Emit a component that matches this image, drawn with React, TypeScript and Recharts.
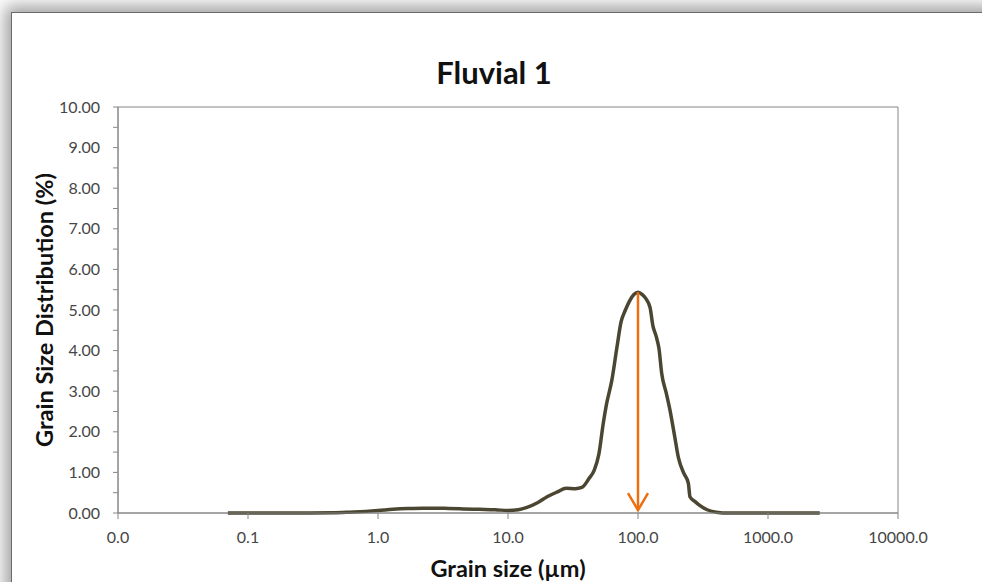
// Grain size distribution curve for the "Fluvial 1" sample, drawn on a log
// grain-size axis with an arrow marking the modal class near 100 µm.
import {
  LineChart,
  Line,
  XAxis,
  YAxis,
  ReferenceLine,
  ReferenceArea,
} from "recharts";

const TITLE = "Fluvial 1";
const X_LABEL = "Grain size (µm)";
const Y_LABEL = "Grain Size Distribution (%)";

// size class (µm) and volume share (%)
const SIZES = [
  0.07, 0.1, 0.15, 0.2, 0.3, 0.45, 0.6, 0.8, 1.0, 1.3, 1.7, 2.2, 2.8, 3.5,
  4.5, 6, 8, 10, 12, 14, 17, 20, 24, 28, 33, 37, 42, 46, 50, 54, 57, 63, 69,
  74, 80, 86, 93, 100, 108, 115, 124, 130, 138, 145, 152, 165, 176, 190, 205,
  225, 244, 251, 275, 300, 340, 400, 450, 600, 1000, 1500, 2000, 2500,
];
const PERCENT = [
  0, 0, 0, 0, 0, 0.005, 0.02, 0.04, 0.06, 0.09, 0.11, 0.12, 0.12, 0.11,
  0.1, 0.09, 0.08, 0.06, 0.08, 0.14, 0.26, 0.4, 0.52, 0.61, 0.6, 0.63, 0.85,
  1.05, 1.45, 2.2, 2.65, 3.28, 4.1, 4.7, 5.0, 5.22, 5.38, 5.44, 5.38, 5.28,
  5.05, 4.62, 4.35, 4.05, 3.45, 2.95, 2.54, 1.95, 1.35, 0.98, 0.73, 0.4, 0.28,
  0.18, 0.08, 0.02, 0, 0, 0, 0, 0, 0,
];

const X_TICKS = [0.01, 0.1, 1, 10, 100, 1000, 10000];
const Y_TICKS = [
  0, 0.5, 1, 1.5, 2, 2.5, 3, 3.5, 4, 4.5, 5, 5.5, 6, 6.5, 7, 7.5, 8, 8.5, 9,
  9.5, 10,
];

// modal size and where the arrow starts / ends
const MODE_SIZE = 100;
const ARROW_TOP = 5.44;
const ARROW_TIP = 0.07;

const data = SIZES.map((s, i) => ({ size: s, pct: PERCENT[i] }));

const FONT = "Lato, 'Open Sans', sans-serif";
const AXIS_GREY = "#868686";
const TICK_TEXT = "#464646";
const CURVE = "#4b4631";
const ORANGE = "#ec6f12";

function ArrowShape(props: any) {
  const { x1, y1, x2, y2 } = props;
  if (x1 == null || y1 == null) return null;
  return (
    <g>
      <line x1={x1} y1={y1} x2={x2} y2={y2} stroke={ORANGE} strokeWidth={2.5} />
      <path
        d={`M${x2 - 10},${y2 - 17} L${x2},${y2} L${x2 + 10},${y2 - 17}`}
        fill="none"
        stroke={ORANGE}
        strokeWidth={2.5}
      />
    </g>
  );
}

export default function App() {
  return (
    <div
      style={{
        position: "absolute",
        left: 0,
        top: 0,
        width: 982,
        height: 582,
        overflow: "hidden",
        background: "#ffffff",
        fontFamily: FONT,
      }}
    >
      {/* chart card with its drop shadow */}
      <div
        style={{
          position: "absolute",
          left: 11,
          top: 12,
          width: 1000,
          height: 620,
          background: "#ffffff",
          border: "1px solid #6a6a6a",
          boxShadow: "0 0 16px 6px rgba(0,0,0,0.38)",
        }}
      />
      <div style={{ position: "absolute", left: 0, top: 0 }}>
        <LineChart
          width={982}
          height={582}
          data={data}
          margin={{ top: 107, right: 84, bottom: 29, left: 58 }}
        >
          <ReferenceArea
            x1={0.01}
            x2={10000}
            y1={0}
            y2={10}
            fill="none"
            stroke={AXIS_GREY}
            strokeWidth={1}
          />
          <XAxis
            dataKey="size"
            type="number"
            scale="log"
            domain={[0.01, 10000]}
            ticks={X_TICKS}
            allowDataOverflow
            height={40}
            stroke={AXIS_GREY}
            tickSize={6}
            tickMargin={13}
            tick={{ fill: TICK_TEXT, fontSize: 16, fontFamily: FONT }}
            tickFormatter={(v: number) => v.toFixed(1)}
          />
          <YAxis
            type="number"
            domain={[0, 10]}
            ticks={Y_TICKS}
            interval={0}
            width={60}
            stroke={AXIS_GREY}
            tickSize={5}
            tickMargin={13}
            tick={{ fill: TICK_TEXT, fontSize: 16, fontFamily: FONT }}
            tickFormatter={(v: number) => (Number.isInteger(v) ? v.toFixed(2) : "")}
          />
          <Line
            type="monotone"
            dataKey="pct"
            stroke={CURVE}
            strokeWidth={3.5}
            dot={false}
            activeDot={false}
            isAnimationActive={false}
          />
          <ReferenceLine
            segment={[
              { x: MODE_SIZE, y: ARROW_TOP },
              { x: MODE_SIZE, y: ARROW_TIP },
            ]}
            shape={ArrowShape}
          />
        </LineChart>
      </div>
      <svg
        width={982}
        height={582}
        style={{ position: "absolute", left: 0, top: 0, pointerEvents: "none" }}
      >
        <text
          x={494}
          y={84}
          textAnchor="middle"
          fontSize={31}
          fontWeight={700}
          fill="#111"
          fontFamily={FONT}
        >
          {TITLE}
        </text>
        <text
          x={508}
          y={577}
          textAnchor="middle"
          fontSize={23.5}
          fontWeight={700}
          fill="#111"
          fontFamily={FONT}
        >
          {X_LABEL}
        </text>
        <text
          x={53}
          y={310}
          transform="rotate(-90, 53, 310)"
          textAnchor="middle"
          fontSize={23.5}
          fontWeight={700}
          fill="#111"
          fontFamily={FONT}
        >
          {Y_LABEL}
        </text>
      </svg>
    </div>
  );
}
